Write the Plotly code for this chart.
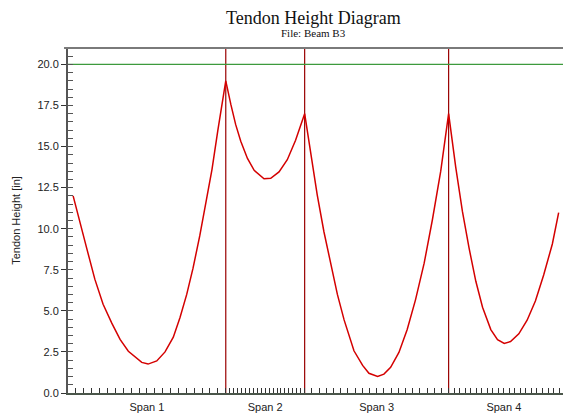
import plotly.graph_objects as go

# ---- data ----
span_names = ["Span 1", "Span 2", "Span 3", "Span 4"]
span_lengths = [40.0, 20.0, 36.5, 28.0]          # ft
limit_height = 20.0                                # in

pos_ft = [
    1.3, 3.0, 4.7, 6.8, 8.9, 11.1, 13.2, 15.3, 18.7, 20.3, 22.5, 24.6, 26.7, 28.4,
    30.1, 31.7, 33.4, 35.1, 36.5, 38.0, 40.0,
    41.3, 42.5, 43.8, 45.5, 47.2, 49.7, 51.4, 53.5, 55.6, 57.7, 60.0,
    61.5, 63.2, 64.9, 66.6, 68.3, 70.0, 72.5, 74.7, 76.3, 78.5, 80.1, 81.8, 83.9,
    86.0, 88.1, 90.3, 92.4, 94.5, 96.5,
    98.3, 100.0, 101.7, 103.4, 105.1, 107.2, 108.9, 110.6, 112.2, 114.3, 116.4,
    118.5, 120.6, 122.8, 124.4,
]
tendon_in = [
    12.0, 10.5, 8.85, 6.93, 5.4, 4.25, 3.26, 2.54, 1.86, 1.76, 1.95, 2.5, 3.4, 4.6,
    6.0, 7.6, 9.56, 11.77, 13.6, 16.0, 19.0,
    17.55, 16.35, 15.33, 14.28, 13.55, 13.04, 13.07, 13.46, 14.2, 15.38, 17.0,
    14.65, 12.05, 9.8, 7.8, 6.0, 4.45, 2.57, 1.68, 1.2, 1.01, 1.15, 1.56, 2.47,
    3.87, 5.67, 7.9, 10.56, 13.5, 17.0,
    13.75, 11.05, 8.8, 6.8, 5.22, 3.86, 3.25, 3.02, 3.13, 3.6, 4.43,
    5.6, 7.18, 9.07, 10.98,
]

# ---- derived axis helpers ----
bounds = [0.0]
for L in span_lengths:
    bounds.append(bounds[-1] + L)
mids = [(bounds[i] + bounds[i + 1]) / 2 for i in range(len(span_lengths))]
minor_x = []
for i, L in enumerate(span_lengths):
    for k in range(21):
        minor_x.append(bounds[i] + L * k / 20)

X_MAX = 125.5
Y_MAX = 21.0

fig = go.Figure()

fig.add_trace(go.Scatter(
    x=pos_ft, y=tendon_in, mode="lines",
    line=dict(color="#d40000", width=1.5),
    showlegend=False, hoverinfo="skip",
))
# dummy trace to activate overlay axes
fig.add_trace(go.Scatter(x=[0], y=[0], xaxis="x2", yaxis="y2", mode="markers",
                         marker=dict(opacity=0), showlegend=False, hoverinfo="skip"))

shapes = []
shapes.append(dict(type="line", xref="x", yref="y", x0=0, x1=X_MAX,
                   y0=limit_height, y1=limit_height,
                   line=dict(color="#3d9a3d", width=1.2), layer="below"))
for b in bounds[1:-1]:
    shapes.append(dict(type="line", xref="x", yref="paper", x0=b, x1=b, y0=0, y1=1,
                       line=dict(color="#990000", width=1.2), layer="below"))
shapes.append(dict(type="line", xref="paper", yref="paper", x0=-0.008, x1=1, y0=1, y1=1,
                   line=dict(color="#7a7a7a", width=2)))

tickfont = dict(family="Liberation Sans, Arial", size=11, color="#222")

fig.update_layout(
    width=563, height=415,
    margin=dict(l=68, r=0, t=48, b=22, autoexpand=False),
    paper_bgcolor="white", plot_bgcolor="white",
    showlegend=False,
    shapes=shapes,
    xaxis=dict(
        range=[0, X_MAX], showgrid=False, zeroline=False, automargin=False,
        tickmode="array", tickvals=mids, ticktext=span_names, ticks="",
        tickfont=tickfont, ticklabelstandoff=3,
        showline=True, linecolor="#4a564a", linewidth=2,
    ),
    xaxis2=dict(
        range=[0, X_MAX], overlaying="x", matches="x", showgrid=False, zeroline=False,
        automargin=False,
        tickmode="array", tickvals=minor_x, ticks="inside", ticklen=5,
        tickcolor="#333", tickwidth=1, showticklabels=False, showline=False,
    ),
    yaxis=dict(
        range=[0, Y_MAX], showgrid=False, zeroline=False, automargin=False,
        tickmode="linear", tick0=0, dtick=2.5, tickformat=".1f",
        ticks="outside", ticklen=5, tickcolor="#333", tickwidth=1,
        tickfont=tickfont,
        showline=True, linecolor="#555", linewidth=2,
        title=dict(text="Tendon Height [in]", font=tickfont),
    ),
    yaxis2=dict(
        range=[0, Y_MAX], overlaying="y", matches="y", showgrid=False, zeroline=False,
        automargin=False,
        tickmode="linear", tick0=0, dtick=0.5, ticks="inside", ticklen=5,
        tickcolor="#555", tickwidth=1, showticklabels=False, showline=False,
    ),
    annotations=[
        dict(text="Tendon Height Diagram", xref="paper", yref="paper",
             x=0.495, y=1, yshift=30, showarrow=False, xanchor="center", yanchor="middle",
             font=dict(family="Liberation Serif, Times New Roman", size=18, color="#111")),
        dict(text="File: Beam B3", xref="paper", yref="paper",
             x=0.495, y=1, yshift=15, showarrow=False, xanchor="center", yanchor="middle",
             font=dict(family="Liberation Serif, Times New Roman", size=11, color="#111")),
    ],
)

fig.write_html(
    "out.html",
    config={"displayModeBar": False},
    post_script="document.body.style.margin='0';document.body.style.padding='0';",
)
